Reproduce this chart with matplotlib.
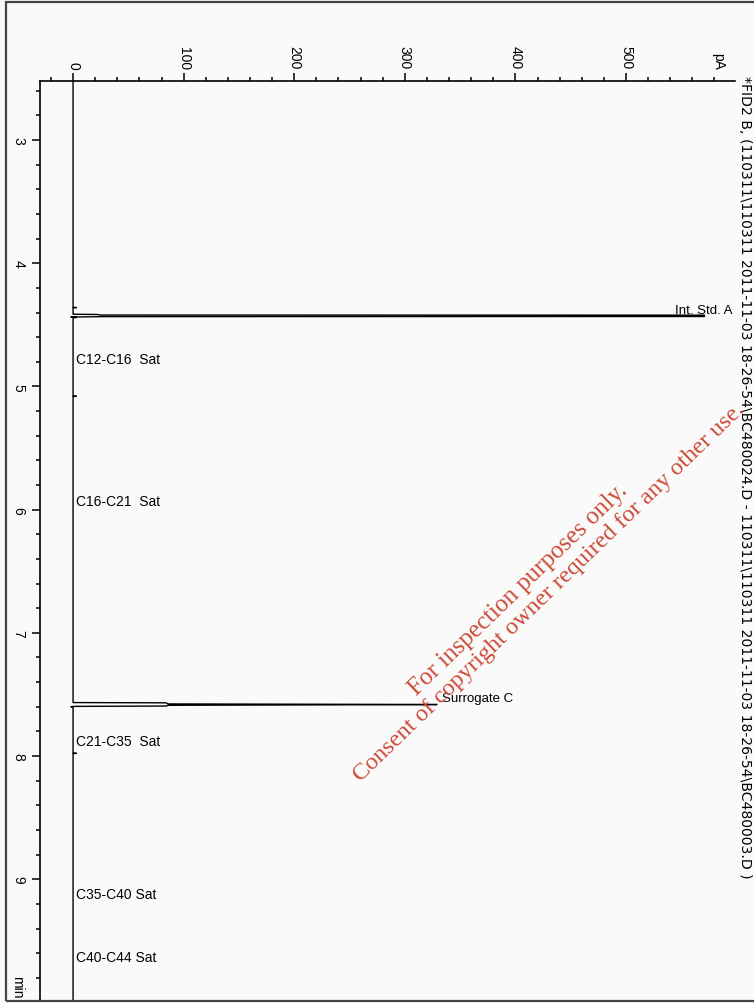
import matplotlib.pyplot as plt
from matplotlib.patches import Rectangle
from matplotlib.ticker import MultipleLocator

# trace (time in min, signal in pA)
time_min = [2.517, 4.358, 4.360, 4.362, 4.414, 4.416, 4.4205, 4.4215, 4.4325,
            4.4335, 4.434, 4.437, 4.440, 4.443, 5.078, 5.080, 5.082,
            7.566, 7.568, 7.577, 7.5805, 7.5815, 7.5825, 7.5835, 7.588, 7.594,
            7.597, 7.600, 7.603, 7.976, 7.978, 7.980, 9.98]
signal_pa = [0, 0, 3, 0, 0, 22, 25, 571, 571,
             25, 22, -2, 3, 0, 0, 3, 0,
             0, 84, 86, 273, 329, 329, 273, 86, 84,
             0, -2, 0, 0, 3, 0, 0]

peak_names = ["Int. Std. A", "Surrogate C"]
peak_times = [4.427, 7.582]
peak_heights = [571, 329]

frac_names = ["C12-C16  Sat", "C16-C21  Sat", "C21-C35  Sat", "C35-C40 Sat", "C40-C44 Sat"]
frac_times = [4.78, 5.93, 7.88, 9.12, 9.63]

pa_ticks = [0, 100, 200, 300, 400, 500]
min_ticks = [3, 4, 5, 6, 7, 8, 9]

title = ("*FID2 B, (110311\\110311 2011-11-03 18-26-54\\BC480024.D - "
         "110311\\110311 2011-11-03 18-26-54\\BC480003.D )")

plt.rcParams['font.family'] = ['Liberation Sans', 'DejaVu Sans']
W, H = 754, 1004
fig = plt.figure(figsize=(W / 100, H / 100), dpi=100, facecolor='#fafafa')

# outer frame of the scanned page
fig.patches.append(Rectangle((6 / W, 1 - 1002 / H), 800 / W, 999 / H,
                             transform=fig.transFigure, fill=False,
                             edgecolor='#444444', lw=1.6))

ax = fig.add_axes([40 / W, 1 - 1001 / H, 695 / W, 919.5 / H])
ax.set_facecolor('#fafafa')
ax.plot(signal_pa, time_min, color='black', lw=1.0)

ax.set_xlim(-29.9, 598.6)
ax.set_ylim(9.98, 2.517)

for s in ['right', 'bottom']:
    ax.spines[s].set_visible(False)
for s in ['top', 'left']:
    ax.spines[s].set_linewidth(1.2)

ax.xaxis.tick_top()
ax.set_xticks(pa_ticks)
ax.xaxis.set_minor_locator(MultipleLocator(20))
ax.set_yticks(min_ticks)
ax.yaxis.set_minor_locator(MultipleLocator(0.2))
ax.tick_params(which='major', length=5.5, width=1.1, labelsize=10, pad=3)
ax.tick_params(axis='y', which='major', pad=5)
ax.tick_params(which='minor', length=3, width=1.1)
for lab in ax.get_xticklabels():
    lab.set_rotation(-90)
    lab.set_va('bottom')
for lab in ax.get_yticklabels():
    lab.set_rotation(-90)
    lab.set_va('center')

fig.text(718 / W, 1 - 61 / H, 'pA', rotation=-90, ha='center', va='center', fontsize=10)
fig.text(17 / W, 1 - 987 / H, 'min', rotation=-90, ha='center', va='center', fontsize=10)
fig.text(745 / W, 1 - 76 / H, title, rotation=-90, ha='center', va='top',
         fontsize=10.1, family='DejaVu Sans')

# peak and fraction labels
offsets = [(-21, 4), (3.5, 5)]
for name, t, h, off in zip(peak_names, peak_times, peak_heights, offsets):
    ax.annotate(name, (h, t), xytext=off, textcoords='offset points',
                ha='left', va='center', fontsize=9.5)
for name, t in zip(frac_names, frac_times):
    ax.annotate(name, (0, t), xytext=(2.2, 0), textcoords='offset points',
                ha='left', va='center', fontsize=10)

# watermark
wm = dict(rotation=44, rotation_mode='anchor', ha='center', va='center',
          color='#cc4b37', family='Liberation Serif')
fig.text(518 / W, 1 - 590 / H, 'For inspection purposes only.', fontsize=18, **wm)
fig.text(549 / W, 1 - 593 / H, 'Consent of copyright owner required for any other use.',
         fontsize=17.5, **wm)

fig.savefig('out.png', dpi=100, facecolor=fig.get_facecolor())
